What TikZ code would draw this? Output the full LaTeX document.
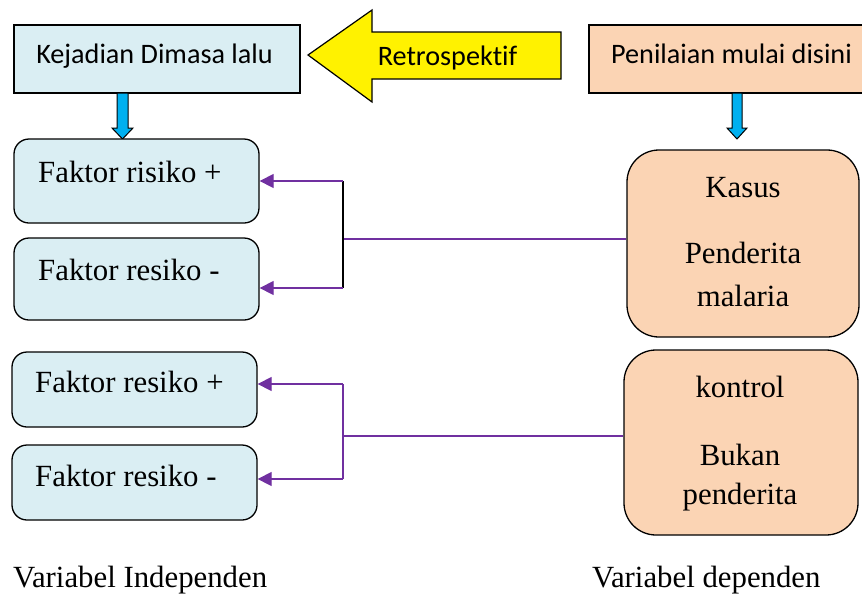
\documentclass[tikz,border=0pt]{standalone}
\usepackage{fontspec}
\setmainfont{Liberation Serif}
\newfontfamily\calibrifont[Ligatures=NoCommon]{Carlito}
\usetikzlibrary{arrows.meta}
\definecolor{lblue}{HTML}{DAEEF3}
\definecolor{peach}{HTML}{FBD4B4}
\definecolor{arrblue}{HTML}{00B0F0}
\definecolor{vio}{HTML}{7030A0}
\tikzset{
  sqbox/.style={draw=black, line width=1.3pt, rectangle, inner sep=0pt},
  fbox/.style={draw=black, line width=1.3pt, rounded corners=15pt, fill=lblue, rectangle, inner sep=0pt, minimum width=245pt},
  cbox/.style={draw=black, line width=1.3pt, rounded corners=32pt, fill=peach, rectangle, inner sep=0pt},
  sertext/.style={font=\fontsize{30.8}{34}\selectfont, inner sep=0pt},
  caltext/.style={font=\calibrifont\fontsize{28.2}{30}\selectfont, inner sep=0pt},
  conn/.style={draw=vio, line width=1.3pt},
  connarr/.style={conn, -{Triangle[length=14pt,width=14pt]}},
  blockarrow/.style={draw=black, line width=1pt, fill=arrblue},
}
\begin{document}
\begin{tikzpicture}[x=1pt,y=-1pt]
\useasboundingbox (0,0) rectangle (862,603);

% top boxes
\node[sqbox, fill=lblue, minimum width=286pt, minimum height=68pt] (kej) at (157,59) {};
\node[caltext, anchor=base] (kejt) at (154.5,63) {Kejadian Dimasa lalu};
\node[sqbox, fill=peach, minimum width=280pt, minimum height=68pt] (pen) at (729,59) {};
\node[caltext, anchor=base] (pent) at (731.5,63) {Penilaian mulai disini};

% yellow arrow
\draw[draw=black, line width=1.2pt, fill=yellow] (308,55) -- (372,10) -- (372,32) -- (561,32) -- (561,79) -- (372,79) -- (372,102) -- cycle;
\node[caltext, anchor=base] (retro) at (447.5,65) {Retrospektif};

% blue arrows
\draw[blockarrow] (117,93) -- (128,93) -- (128,128) -- (133,128) -- (122.5,139) -- (112,128) -- (117,128) -- cycle;
\draw[blockarrow] (732,93) -- (742,93) -- (742,128) -- (747,128) -- (737,139) -- (727,128) -- (732,128) -- cycle;

% left boxes
\node[fbox, minimum height=84pt] (f1) at (136.5,181) {};
\node[sertext, anchor=base west] (f1t) at (38,182) {Faktor risiko +};
\node[fbox, minimum height=82pt] (f2) at (136.5,279) {};
\node[sertext, anchor=base west] (f2t) at (38,280) {Faktor resiko -};
\node[fbox, minimum height=75pt] (f3) at (134.5,389.5) {};
\node[sertext, anchor=base west] (f3t) at (35,392) {Faktor resiko +};
\node[fbox, minimum height=75pt] (f4) at (134.5,482.5) {};
\node[sertext, anchor=base west] (f4t) at (35,486) {Faktor resiko -};

% right boxes
\node[cbox, minimum width=232pt, minimum height=187pt] (kasus) at (743,243.5) {};
\node[sertext, anchor=base] (k1) at (743,197) {Kasus};
\node[sertext, anchor=base] (k2) at (743,263) {Penderita};
\node[sertext, anchor=base] (k3) at (743,306) {malaria};
\node[cbox, minimum width=234pt, minimum height=185pt] (kontrol) at (741,442.5) {};
\node[sertext, anchor=base] (c1) at (740,397) {kontrol};
\node[sertext, anchor=base] (c2) at (740,465) {Bukan};
\node[sertext, anchor=base] (c3) at (740,504) {penderita};

% connectors group 1
\coordinate (j1) at (343,239);
\coordinate (j1t) at (343,181);
\coordinate (j1b) at (343,288);
\draw[conn] (kasus.west |- j1) -- (j1);
\draw[draw=black, line width=1.3pt] (j1t) -- (j1b);
\draw[connarr] (j1t) -- (f1.east |- j1t);
\draw[connarr] (j1b) -- (f2.east |- j1b);

% connectors group 2
\coordinate (j2) at (343,436);
\coordinate (j2t) at (343,384);
\coordinate (j2b) at (343,479);
\draw[conn] (kontrol.west |- j2) -- (j2);
\draw[conn] (j2t) -- (j2b);
\draw[connarr] (j2t) -- (f3.east |- j2t);
\draw[connarr] (j2b) -- (f4.east |- j2b);

% bottom labels
\node[sertext, anchor=base west] (vi) at (13,587) {Variabel Independen};
\node[sertext, anchor=base west] (vd) at (592,587) {Variabel dependen};
\end{tikzpicture}
\end{document}
